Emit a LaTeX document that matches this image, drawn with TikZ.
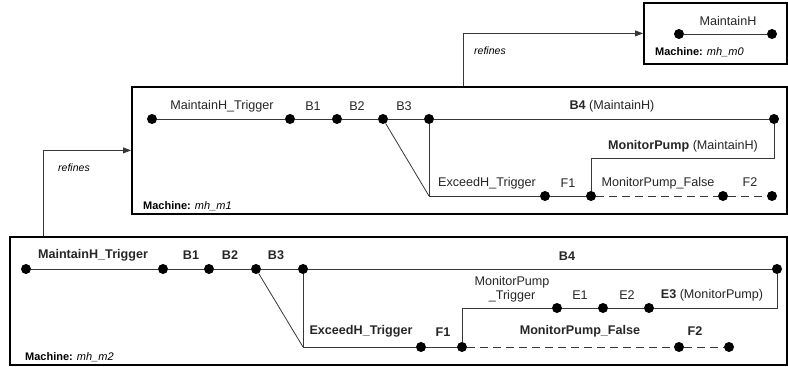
\documentclass[tikz,border=0pt]{standalone}
\usepackage{fontspec}
\setmainfont{Liberation Sans}
\usepackage{xcolor}
\usetikzlibrary{arrows.meta}
\definecolor{tracecolor}{RGB}{55,55,55}

\begin{document}
\begin{tikzpicture}[x=1pt,y=-1pt,
  dot/.style={circle,fill=black,inner sep=0pt,minimum size=10pt},
  trace/.style={draw=tracecolor,line width=0.8pt},
  falsetrace/.style={trace,dash pattern=on 8pt off 5pt},
  mbox/.style={draw=black,line width=1.8pt,anchor=north west,inner sep=0pt},
  lbl/.style={font=\fontsize{12.6}{14}\selectfont,inner sep=0pt,text=black!85},
  mlbl/.style={font=\fontsize{11}{13}\selectfont,anchor=west,inner sep=0pt},
  reflbl/.style={font=\fontsize{10.5}{12}\selectfont\itshape,inner sep=0pt},
  refarrow/.style={draw=tracecolor,line width=0.8pt,-{Triangle[length=8pt,width=6pt]}}]
  \useasboundingbox (0,0) rectangle (788,367);
  % ---- machine boxes
  \node[mbox,minimum width=143pt,minimum height=61pt] (m0) at (643,2) {};
  \node[mbox,minimum width=655pt,minimum height=127pt] (m1) at (131,86) {};
  \node[mbox,minimum width=777pt,minimum height=128pt] (m2) at (9,236) {};
  % ---- refines
  \coordinate (r1) at (463,86);
  \coordinate (r2) at (43,236);
  \draw[refarrow] (r1) |- (m0.west);
  \draw[refarrow] (r2) |- (m1.west);
  \node[reflbl] (r1lbl) at (490,51) {refines};
  \node[reflbl] (r2lbl) at (74,168) {refines};
  % ---- mh_m0
  \node[dot] (m0a) at (679,34) {};
  \node[dot] (m0b) at (772,34) {};
  \draw[trace] (m0a) -- (m0b);
  \node[lbl] (m0lmh) at (728,21) {MaintainH};
  \node[mlbl] (m0name) at (655,52) {\textbf{Machine:} \textit{mh\_m0}};
  % ---- mh_m1
  \foreach \n/\x in {a/152,b1/290,b2/337,b3/383,b4/429,b4e/774}
    \node[dot] (m1\n) at (\x,119) {};
  \foreach \n/\x in {f1a/545,f1b/591,f2a/723,f2b/772}
    \node[dot] (m1\n) at (\x,196) {};
  \coordinate (m1x) at (429,196);
  \coordinate (m1k) at (591,158);
  \draw[trace] (m1a) -- (m1b1) -- (m1b2) -- (m1b3) -- (m1b4) -- (m1b4e);
  \draw[trace] (m1b3) -- (m1x);
  \draw[trace] (m1b4) -- (m1x) -- (m1f1a) -- (m1f1b);
  \draw[trace] (m1b4e) |- (m1k) -- (m1f1b);
  \draw[falsetrace] (m1f1b) -- (m1f2a) -- (m1f2b);
  \node[lbl] (m1lmt) at (222,106) {MaintainH\_Trigger};
  \node[lbl] (m1lb1) at (313,106) {B1};
  \node[lbl] (m1lb2) at (357,106) {B2};
  \node[lbl] (m1lb3) at (404,106) {B3};
  \node[lbl] (m1lb4) at (612,106) {\textbf{B4} (MaintainH)};
  \node[lbl] (m1lmp) at (683,146) {\textbf{MonitorPump} (MaintainH)};
  \node[lbl] (m1let) at (487,183) {ExceedH\_Trigger};
  \node[lbl] (m1lf1) at (568,183) {F1};
  \node[lbl] (m1lmf) at (658,183) {MonitorPump\_False};
  \node[lbl] (m1lf2) at (750,182) {F2};
  \node[mlbl] (m1name) at (143,206) {\textbf{Machine:} \textit{mh\_m1}};
  % ---- mh_m2
  \foreach \n/\x in {a/26,b1/163,b2/209,b3/256,b4/303,b4e/777}
    \node[dot] (m2\n) at (\x,269) {};
  \foreach \n/\x in {mt/557,e1/603,e2/649}
    \node[dot] (m2\n) at (\x,308) {};
  \foreach \n/\x in {f1a/421,f1b/462,f2a/679,f2b/729}
    \node[dot] (m2\n) at (\x,347) {};
  \coordinate (m2x) at (303,347);
  \coordinate (m2k) at (462,308);
  \draw[trace] (m2a) -- (m2b1) -- (m2b2) -- (m2b3) -- (m2b4) -- (m2b4e);
  \draw[trace] (m2b3) -- (m2x);
  \draw[trace] (m2b4) -- (m2x) -- (m2f1a) -- (m2f1b);
  \draw[trace] (m2b4e) |- (m2e2) -- (m2e1) -- (m2mt) -- (m2k) -- (m2f1b);
  \draw[falsetrace] (m2f1b) -- (m2f2a) -- (m2f2b);
  \node[lbl] (m2lmt) at (93,255) {\textbf{MaintainH\_Trigger}};
  \node[lbl] (m2lb1) at (191,255) {\textbf{B1}};
  \node[lbl] (m2lb2) at (230,255) {\textbf{B2}};
  \node[lbl] (m2lb3) at (276,255) {\textbf{B3}};
  \node[lbl] (m2lb4) at (567,256) {\textbf{B4}};
  \node[lbl,align=center] (m2lmpt) at (512,289) {MonitorPump\\\_Trigger};
  \node[lbl] (m2le1) at (580,295) {E1};
  \node[lbl] (m2le2) at (627,295) {E2};
  \node[lbl] (m2le3) at (712,295) {\textbf{E3} (MonitorPump)};
  \node[lbl] (m2let) at (361,331) {\textbf{ExceedH\_Trigger}};
  \node[lbl] (m2lf1) at (443,332) {\textbf{F1}};
  \node[lbl] (m2lmf) at (580,331) {\textbf{MonitorPump\_False}};
  \node[lbl] (m2lf2) at (695,331) {\textbf{F2}};
  \node[mlbl] (m2name) at (25,357) {\textbf{Machine:} \textit{mh\_m2}};
\end{tikzpicture}
\end{document}
